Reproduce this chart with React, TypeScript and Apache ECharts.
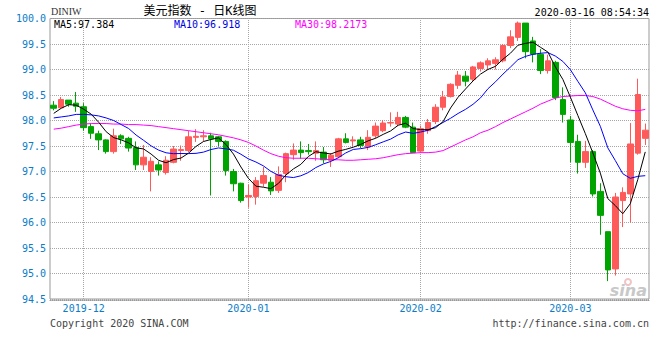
import React, { useEffect, useRef } from "react";
import * as echarts from "echarts";

const dates = [
  "2019-11-26", "2019-11-27", "2019-11-28", "2019-11-29",
  "2019-12-02", "2019-12-03", "2019-12-04", "2019-12-05", "2019-12-06",
  "2019-12-09", "2019-12-10", "2019-12-11", "2019-12-12", "2019-12-13",
  "2019-12-16", "2019-12-17", "2019-12-18", "2019-12-19", "2019-12-20",
  "2019-12-23", "2019-12-24", "2019-12-25", "2019-12-26", "2019-12-27",
  "2019-12-30", "2019-12-31",
  "2020-01-01", "2020-01-02", "2020-01-03",
  "2020-01-06", "2020-01-07", "2020-01-08", "2020-01-09", "2020-01-10",
  "2020-01-13", "2020-01-14", "2020-01-15", "2020-01-16", "2020-01-17",
  "2020-01-20", "2020-01-21", "2020-01-22", "2020-01-23", "2020-01-24",
  "2020-01-27", "2020-01-28", "2020-01-29", "2020-01-30", "2020-01-31",
  "2020-02-03", "2020-02-04", "2020-02-05", "2020-02-06", "2020-02-07",
  "2020-02-10", "2020-02-11", "2020-02-12", "2020-02-13", "2020-02-14",
  "2020-02-17", "2020-02-18", "2020-02-19", "2020-02-20", "2020-02-21",
  "2020-02-24", "2020-02-25", "2020-02-26", "2020-02-27", "2020-02-28",
  "2020-03-02", "2020-03-03", "2020-03-04", "2020-03-05", "2020-03-06",
  "2020-03-09", "2020-03-10", "2020-03-11", "2020-03-12", "2020-03-13",
  "2020-03-16",
];

const openP = [
  98.30, 98.25, 98.40, 98.34, 98.27, 97.88, 97.74, 97.62, 97.39, 97.70,
  97.65, 97.47, 97.13, 97.00, 97.13, 96.98, 97.18, 97.41, 97.41, 97.67,
  97.68, 97.70, 97.68, 97.59, 97.00, 96.77, 96.50, 96.51, 96.77, 96.79,
  96.63, 96.96, 97.33, 97.42, 97.41, 97.36, 97.38, 97.22, 97.29, 97.64,
  97.60, 97.62, 97.48, 97.70, 97.80, 97.95, 97.93, 98.06, 97.87, 97.40,
  97.80, 97.98, 98.26, 98.47, 98.69, 98.87, 98.81, 99.02, 99.09, 99.12,
  99.17, 99.47, 99.63, 99.91, 99.56, 99.30, 98.98, 99.14, 98.41, 98.01,
  97.59, 97.18, 97.39, 96.61, 95.82, 95.09, 96.43, 96.56, 97.36, 97.65,
];
const closeP = [
  98.24, 98.41, 98.32, 98.28, 97.86, 97.75, 97.62, 97.39, 97.70, 97.64,
  97.46, 97.13, 97.28, 97.20, 97.03, 97.22, 97.44, 97.43, 97.68, 97.69,
  97.70, 97.64, 97.59, 97.02, 96.76, 96.43, 96.53, 96.82, 96.92, 96.62,
  96.94, 97.35, 97.42, 97.37, 97.39, 97.41, 97.23, 97.32, 97.64, 97.57,
  97.62, 97.51, 97.67, 97.89, 97.95, 97.96, 98.06, 97.87, 97.37, 97.84,
  97.96, 98.26, 98.46, 98.71, 98.89, 98.77, 99.05, 99.13, 99.17, 99.19,
  99.47, 99.64, 99.91, 99.35, 99.30, 98.98, 99.17, 98.45, 98.12, 97.57,
  97.18, 97.39, 96.56, 96.14, 95.07, 96.50, 96.59, 97.54, 98.51, 97.81,
];
const lowP = [
  98.20, 98.24, 98.27, 98.17, 97.80, 97.64, 97.42, 97.35, 97.35, 97.54,
  97.39, 97.03, 97.03, 96.61, 96.92, 96.94, 97.16, 97.21, 97.38, 97.58,
  97.59, 96.53, 97.49, 96.92, 96.61, 96.39, 96.29, 96.35, 96.70, 96.54,
  96.58, 96.79, 97.23, 97.25, 97.33, 97.21, 97.16, 97.09, 97.26, 97.55,
  97.50, 97.46, 97.42, 97.65, 97.77, 97.88, 97.89, 97.85, 97.37, 97.37,
  97.74, 97.93, 98.20, 98.45, 98.62, 98.67, 98.77, 98.96, 99.00, 99.00,
  99.14, 99.42, 99.56, 99.22, 99.14, 98.91, 98.92, 98.40, 97.96, 97.18,
  96.96, 97.07, 96.51, 95.76, 94.85, 94.96, 95.91, 96.00, 97.33, 97.52,
];
const highP = [
  98.38, 98.46, 98.40, 98.56, 98.34, 97.94, 97.80, 97.63, 97.84, 97.73,
  97.68, 97.59, 97.52, 97.28, 97.20, 97.30, 97.50, 97.51, 97.80, 97.83,
  97.81, 97.76, 97.70, 97.61, 97.05, 96.78, 96.74, 96.89, 97.09, 96.89,
  97.10, 97.37, 97.55, 97.59, 97.54, 97.59, 97.48, 97.36, 97.66, 97.75,
  97.69, 97.68, 97.81, 97.96, 98.01, 98.16, 98.17, 98.09, 97.96, 97.90,
  98.03, 98.32, 98.58, 98.73, 98.97, 98.97, 99.07, 99.16, 99.22, 99.24,
  99.50, 99.77, 99.94, 99.91, 99.64, 99.40, 99.29, 99.17, 98.65, 98.09,
  97.72, 97.60, 97.42, 96.77, 95.82, 96.58, 96.69, 97.95, 98.82, 97.94,
];

const ma5 = [
  98.14, 98.24, 98.31, 98.30, 98.222, 98.124, 97.966, 97.78, 97.664, 97.62,
  97.562, 97.464, 97.442, 97.342, 97.22, 97.172, 97.234, 97.264, 97.36, 97.492,
  97.588, 97.628, 97.66, 97.528, 97.342, 97.088, 96.866, 96.712, 96.692, 96.664,
  96.766, 96.93, 97.05, 97.14, 97.294, 97.388, 97.364, 97.344, 97.398, 97.434,
  97.476, 97.532, 97.602, 97.652, 97.728, 97.796, 97.906, 97.946, 97.842, 97.82,
  97.82, 97.86, 97.978, 98.246, 98.456, 98.618, 98.776, 98.91, 99.002, 99.062,
  99.202, 99.32, 99.476, 99.512, 99.534, 99.436, 99.342, 99.05, 98.804, 98.458,
  98.098, 97.742, 97.364, 96.968, 96.468, 96.332, 96.172, 96.368, 96.842, 97.384,
];
const ma10 = [
  98.05, 98.07, 98.09, 98.12, 98.12, 98.11, 98.09, 98.05, 98.00, 97.921,
  97.843, 97.715, 97.611, 97.503, 97.42, 97.367, 97.349, 97.353, 97.351, 97.356,
  97.38, 97.431, 97.462, 97.444, 97.417, 97.338, 97.247, 97.186, 97.11, 97.003,
  96.927, 96.898, 96.881, 96.916, 96.979, 97.077, 97.147, 97.197, 97.269, 97.364,
  97.432, 97.448, 97.473, 97.525, 97.581, 97.636, 97.719, 97.774, 97.747, 97.774,
  97.808, 97.883, 97.962, 98.044, 98.138, 98.219, 98.318, 98.444, 98.624, 98.759,
  98.91, 99.048, 99.193, 99.257, 99.298, 99.319, 99.331, 99.263, 99.158, 98.996,
  98.767, 98.542, 98.207, 97.886, 97.463, 97.215, 96.957, 96.866, 96.905, 96.918,
];
const ma30 = [
  97.83, 97.85, 97.88, 97.91, 97.93, 97.94, 97.94, 97.94, 97.93, 97.93,
  97.92, 97.92, 97.91, 97.90, 97.88, 97.86, 97.84, 97.82, 97.80, 97.78,
  97.76, 97.74, 97.72, 97.69, 97.66, 97.62, 97.57, 97.50, 97.42, 97.35,
  97.30, 97.27, 97.26, 97.26, 97.26, 97.25, 97.24, 97.23, 97.23, 97.22,
  97.22, 97.23, 97.24, 97.25, 97.27, 97.30, 97.33, 97.35, 97.36, 97.37,
  97.37, 97.38, 97.41, 97.48, 97.55, 97.62, 97.68, 97.76, 97.81, 97.88,
  97.96, 98.03, 98.10, 98.17, 98.24, 98.32, 98.38, 98.44, 98.47, 98.48,
  98.49, 98.49, 98.47, 98.42, 98.35, 98.28, 98.23, 98.20, 98.19, 98.2173,
];

const yMin = 94.5;
const yMax = 100;
const yStep = 0.5;

const RED = "#ff5a5a";
const GREEN = "#00a400";
const AXIS_BLUE = "#0a7cc8";
const GRID_GRAY = "#a6a6a6";
const MONO = '"DejaVu Sans Mono", "Liberation Mono", monospace';

export default function App() {
  const ref = useRef<HTMLDivElement>(null);

  useEffect(() => {
    if (!ref.current) return;
    const chart = echarts.init(ref.current, null, { renderer: "svg" });

    const monthStarts = dates
      .map((d, i) => (i > 0 && d.slice(0, 7) !== dates[i - 1].slice(0, 7) ? i : -1))
      .filter((i) => i >= 0);
    const isMonthStart = (i: number) => monthStarts.indexOf(i) >= 0;

    const candles = dates.map((_, i) => [openP[i], closeP[i], lowP[i], highP[i]]);

    const last = dates.length - 1;

    chart.setOption({
      animation: false,
      backgroundColor: "#ffffff",
      grid: {
        left: 50,
        right: 11,
        top: 18.5,
        bottom: 61,
        show: true,
        borderColor: "#999999",
        borderWidth: 1,
        backgroundColor: "transparent",
      },
      xAxis: {
        type: "category",
        data: dates,
        boundaryGap: true,
        offset: 1.5,
        axisLine: { show: true, lineStyle: { color: "#9a9a9a", type: [1, 1], width: 1 } },
        axisTick: { show: false },
        splitLine: { show: false },
        axisLabel: {
          interval: (index: number) => isMonthStart(index),
          formatter: (v: string) => v.slice(0, 7),
          color: AXIS_BLUE,
          fontFamily: MONO,
          fontSize: 10,
          margin: 3,
          hideOverlap: false,
        },
      },
      yAxis: {
        type: "value",
        min: yMin,
        max: yMax,
        interval: yStep,
        scale: true,
        axisLine: { show: false },
        axisTick: { show: false },
        splitLine: { show: true, lineStyle: { color: GRID_GRAY, type: [1, 1], width: 1 } },
        axisLabel: {
          formatter: (v: number) => v.toFixed(1),
          color: AXIS_BLUE,
          fontFamily: MONO,
          fontSize: 10,
          margin: 4,
          padding: [0, 0, 6, 0],
        },
      },
      series: [
        {
          type: "candlestick",
          name: "DINIW",
          z: 3,
          data: candles,
          barWidth: 6,
          itemStyle: {
            color: RED,
            color0: GREEN,
            borderColor: RED,
            borderColor0: GREEN,
            borderWidth: 1,
          },
          markLine: {
            silent: true,
            z: 1,
            symbol: ["none", "none"],
            label: { show: false },
            lineStyle: { color: GRID_GRAY, type: [1, 1], width: 1 },
            data: monthStarts.map((i) => ({ xAxis: dates[i] })),
          },
        },
        {
          type: "line",
          name: "MA30",
          z: 4,
          data: ma30,
          showSymbol: false,
          symbol: "none",
          lineStyle: { color: "#ff00ff", width: 1 },
        },
        {
          type: "line",
          name: "MA10",
          z: 4,
          data: ma10,
          showSymbol: false,
          symbol: "none",
          lineStyle: { color: "#0000ff", width: 1 },
        },
        {
          type: "line",
          name: "MA5",
          z: 4,
          data: ma5,
          showSymbol: false,
          symbol: "none",
          lineStyle: { color: "#000000", width: 1 },
        },
      ],
      graphic: [
        {
          type: "text",
          x: 51,
          y: 11,
          style: {
            text: "DINIW",
            fill: "#333333",
            font: '10px "Liberation Serif", serif',
            align: "left",
            verticalAlign: "middle",
          },
        },
        {
          type: "text",
          x: 200,
          y: 11,
          style: {
            text: "美元指数 - 日K线图",
            fill: "#000000",
            font: '12px "DejaVu Sans Mono", "Noto Sans CJK SC", sans-serif',
            align: "center",
            verticalAlign: "middle",
          },
        },
        {
          type: "text",
          x: 649,
          y: 12,
          style: {
            text: "2020-03-16 08:54:34",
            fill: "#000000",
            font: "10px " + MONO,
            align: "right",
            verticalAlign: "middle",
          },
        },
        {
          type: "text",
          x: 54,
          y: 24,
          style: {
            text: "MA5:" + ma5[last].toFixed(3),
            fill: "#000000",
            font: "10px " + MONO,
            align: "left",
            verticalAlign: "middle",
          },
        },
        {
          type: "text",
          x: 174,
          y: 24,
          style: {
            text: "MA10:" + ma10[last].toFixed(3),
            fill: "#0000e6",
            font: "10px " + MONO,
            align: "left",
            verticalAlign: "middle",
          },
        },
        {
          type: "text",
          x: 295,
          y: 24,
          style: {
            text: "MA30:" + ma30[last].toFixed(4),
            fill: "#ff00ff",
            font: "10px " + MONO,
            align: "left",
            verticalAlign: "middle",
          },
        },
        {
          type: "text",
          x: 50,
          y: 323,
          style: {
            text: "Copyright 2020 SINA.COM",
            fill: "#444444",
            font: "10px " + MONO,
            align: "left",
            verticalAlign: "middle",
          },
        },
        {
          type: "text",
          x: 649,
          y: 323,
          style: {
            text: "http://finance.sina.com.cn",
            fill: "#444444",
            font: "10px " + MONO,
            align: "right",
            verticalAlign: "middle",
          },
        },
        {
          type: "ring",
          shape: { cx: 628, cy: 282, r: 4, r0: 2 },
          style: { fill: "#f0c4c4" },
          silent: true,
          z: 1,
        },
        {
          type: "text",
          x: 647,
          y: 290,
          style: {
            text: "sina",
            fill: "#c8c8c8",
            font: 'italic bold 16px "DejaVu Sans", sans-serif',
            align: "right",
            verticalAlign: "middle",
          },
          silent: true,
          z: 1,
        },
      ],
    });

    return () => {
      chart.dispose();
    };
  }, []);

  return (
    <div
      ref={ref}
      style={{ position: "fixed", left: 0, top: 0, width: 660, height: 360 }}
    />
  );
}
